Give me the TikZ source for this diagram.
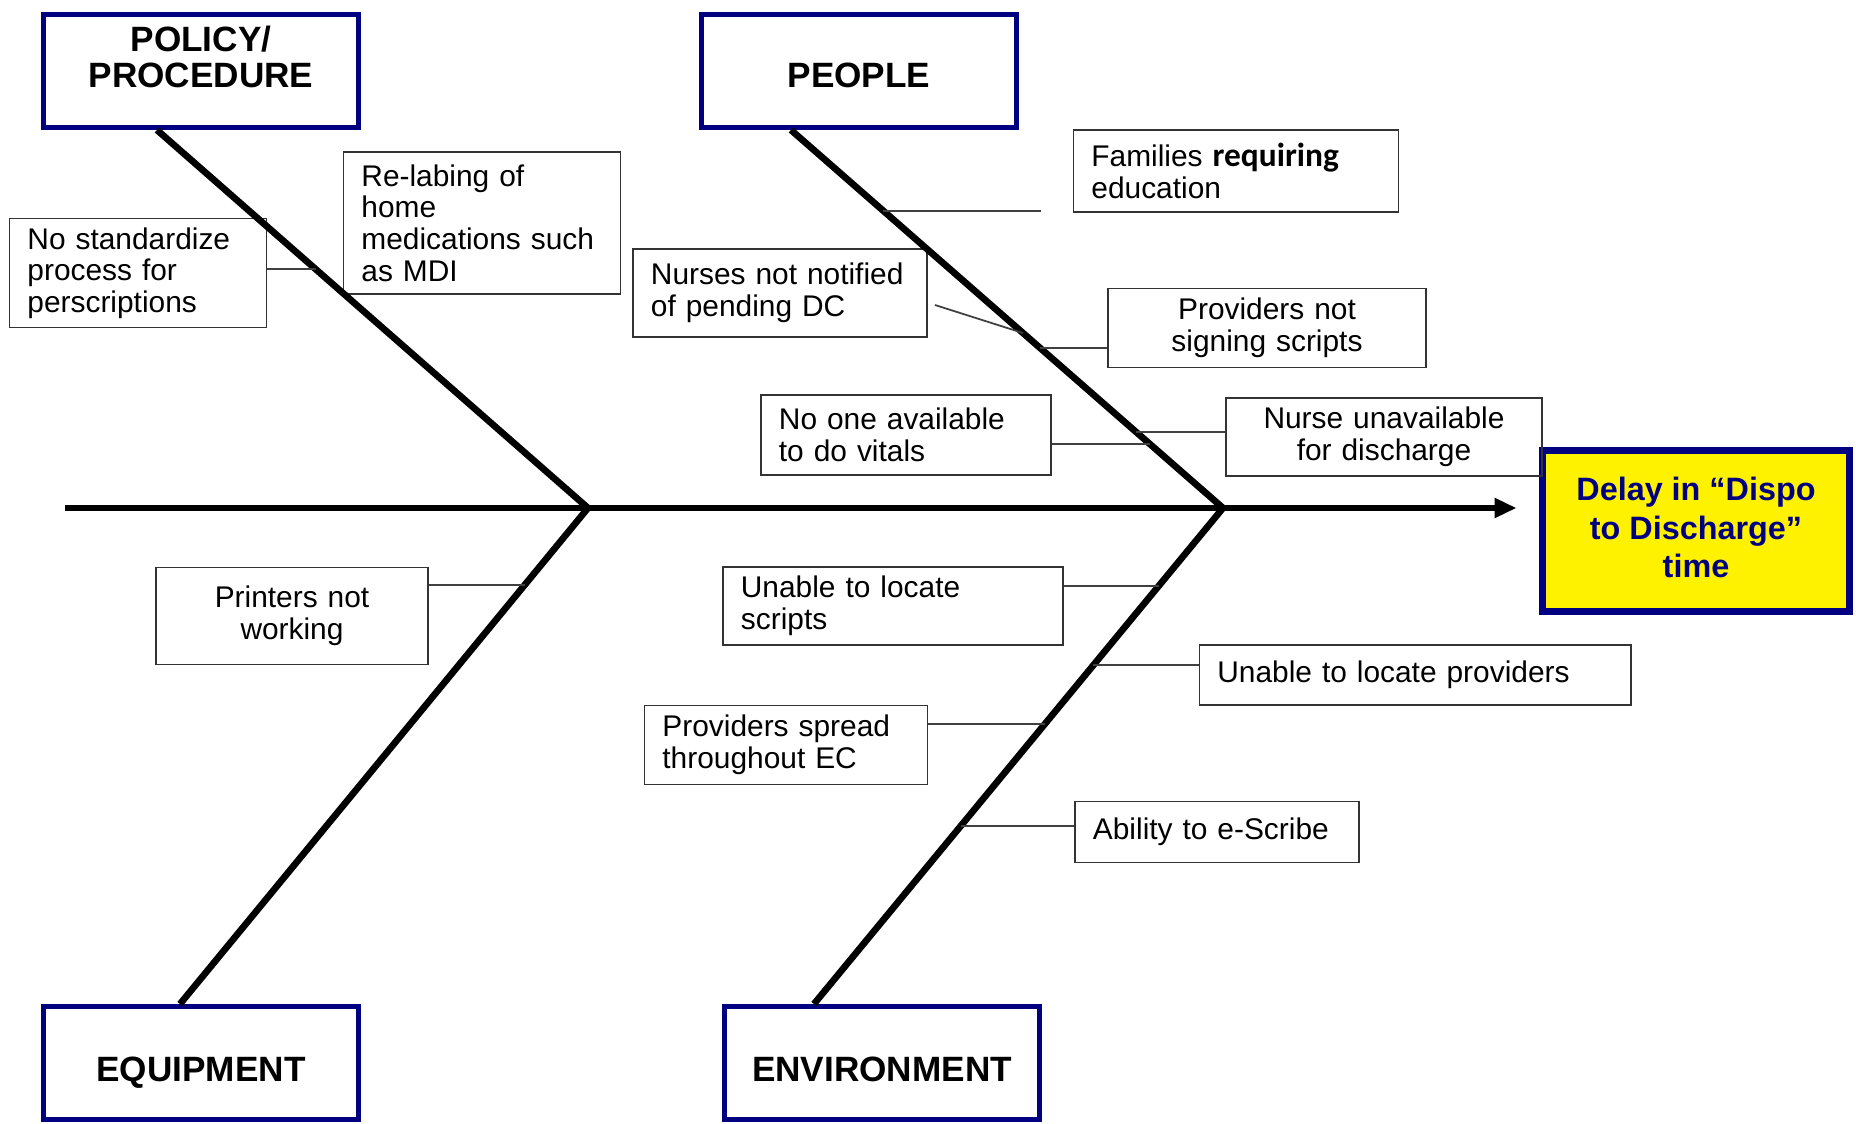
\documentclass[tikz,border=0pt]{standalone}
\usepackage{fontspec}
\setmainfont{Liberation Sans}
\newfontfamily\calibfont{Carlito}
\usetikzlibrary{arrows.meta,calc}
\definecolor{navyline}{RGB}{0,0,128}

\begin{document}
\begin{tikzpicture}[
    x=0.01cm, y=-0.01cm,
    cat/.style={draw=navyline, line width=1.4pt, align=center, inner sep=0pt, font=\fontsize{10}{10.2}\selectfont\bfseries, minimum width=3.15cm, minimum height=1.13cm},
    effect/.style={draw=navyline, line width=2.2pt, fill=yellow, text=navyline, align=center, font=\fontsize{9.2}{10.9}\selectfont\bfseries, minimum width=3.07cm, minimum height=1.61cm},
    cause/.style={draw=black!80, line width=0.5pt, inner xsep=0.18cm, inner ysep=0.08cm, align=left, font=\fontsize{8.5}{9}\selectfont},
    spine/.style={line width=1.9pt, -{Triangle[length=0.22cm, width=0.19cm]}},
    bone/.style={line width=1.9pt},
    link/.style={line width=0.5pt, black!75}
]
\useasboundingbox (0,0) rectangle (1856,1124);

\node[cat, text depth=0.28cm] (policy) at (201,71) {POLICY/\\PROCEDURE};
\node[cat, text height=9.4pt, text depth=0pt] (people) at (859,71) {PEOPLE};
\node[cat, text height=10.6pt, text depth=0pt] (equip) at (201,1063) {EQUIPMENT};
\node[cat, text height=10.6pt, text depth=0pt] (envir) at (882,1063) {ENVIRONMENT};
\node[effect, text depth=0.07cm] (delay) at (1696,531) {Delay in “Dispo\\to Discharge”\\time};

\node[cause, text width=2.21cm, minimum height=1.09cm] (nostd) at (138,273) {No standardize\\process for\\perscriptions};
\node[cause, text width=2.41cm, minimum height=1.42cm] (relab) at (482,223) {Re-labing of\\home\\medications such\\as MDI};
\node[cause, text width=2.89cm, minimum height=0.82cm] (families) at (1236,171) {Families {\calibfont\bfseries\fontsize{9.5}{9}\selectfont requiring}\\education};
\node[cause, text width=2.58cm, minimum height=0.88cm] (nurses) at (780,293) {Nurses not notified\\of pending DC};
\node[cause, align=center, text width=2.82cm, minimum height=0.79cm] (provsign) at (1267,328) {Providers not\\signing scripts};
\node[cause, text width=2.54cm, minimum height=0.80cm] (vitals) at (906,435) {No one available\\to do vitals};
\node[cause, align=center, text width=2.80cm, minimum height=0.78cm] (nurseun) at (1384,437) {Nurse unavailable\\for discharge};
\node[cause, align=center, text width=2.36cm, minimum height=0.97cm] (printers) at (292,616) {Printers not\\working};
\node[cause, text width=3.04cm, minimum height=0.78cm] (locscripts) at (893,606) {Unable to locate\\scripts};
\node[cause, text width=3.95cm, minimum height=0.60cm] (locprov) at (1415,675) {Unable to locate providers};
\node[cause, text width=2.47cm, minimum height=0.79cm] (spread) at (786,745) {Providers spread\\throughout EC};
\node[cause, text width=2.48cm, minimum height=0.61cm] (escribe) at (1217,832) {Ability to e-Scribe};

\coordinate (tail) at (65,508);
\coordinate (j1) at (588,508);
\coordinate (j2) at (1223,508);
\coordinate (polbot) at ([xshift=-0.44cm]policy.south);
\coordinate (peobot) at ([xshift=-0.68cm]people.south);
\coordinate (equtop) at ([xshift=-0.21cm]equip.north);
\coordinate (envtop) at ([xshift=-0.68cm]envir.north);

\draw[bone] (polbot) -- (j1) -- (equtop);
\draw[bone] (peobot) -- (j2) -- (envtop);
\draw[spine, shorten >=0.22cm] (tail) -- (tail -| delay.west);

\coordinate (c1a) at ($(polbot)!0.368!(j1)$);
\coordinate (c2a) at ($(peobot)!0.214!(j2)$);
\coordinate (c2b) at ($(peobot)!0.537!(j2)$);
\coordinate (c2c) at ($(peobot)!0.577!(j2)$);
\coordinate (c2d) at ($(peobot)!0.799!(j2)$);
\coordinate (c2e) at ($(peobot)!0.831!(j2)$);
\coordinate (c3a) at ($(j1)!0.155!(equtop)$);
\coordinate (c4a) at ($(j2)!0.157!(envtop)$);
\coordinate (c4b) at ($(j2)!0.317!(envtop)$);
\coordinate (c4c) at ($(j2)!0.435!(envtop)$);
\coordinate (c4d) at ($(j2)!0.641!(envtop)$);

\draw[link] (c1a) -- (c1a -| nostd.east);
\draw[link, shorten >=0.32cm] (c2a) -- (c2a -| families.west);
\draw[link] ([shift={(0.07cm,-0.12cm)}]nurses.east) -- (c2b);
\draw[link] (c2c) -- (c2c -| provsign.west);
\draw[link] (c2d) -- (c2d -| nurseun.west);
\draw[link] (c2e) -- (c2e -| vitals.east);
\draw[link] (c3a) -- (c3a -| printers.east);
\draw[link] (c4a) -- (c4a -| locscripts.east);
\draw[link] (c4b) -- (c4b -| locprov.west);
\draw[link] (c4c) -- (c4c -| spread.east);
\draw[link] (c4d) -- (c4d -| escribe.west);
\end{tikzpicture}
\end{document}
